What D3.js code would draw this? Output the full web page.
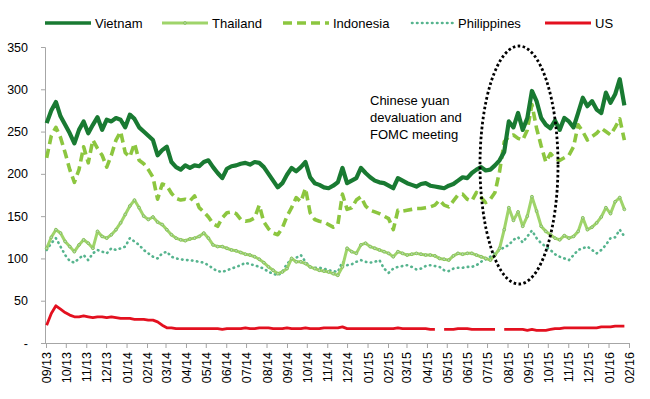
<!DOCTYPE html>
<html>
<head>
<meta charset="utf-8">
<script src="https://cdn.jsdelivr.net/npm/d3@7"></script>
<style>
  body { margin: 0; background: #fff; }
  text { font-family: "Liberation Sans", Arial, sans-serif; }
</style>
</head>
<body>
<div id="wrapper"></div>
<script>
// weekly observations, first week starting 2 Sep 2013
const startDate = new Date(2013, 8, 2)

const vietnam = [260,275,285,268,258,248,236,252,262,248,258,267,252,264,262,266,264,255,270,265,
  255,250,245,240,222,228,232,214,208,205,210,207,210,209,214,216,208,201,195,206,
  209,210,212,213,211,214,213,208,200,192,184,189,199,207,203,208,214,196,189,187,
  184,183,186,190,207,189,192,195,207,201,196,192,190,189,186,183,195,192,189,187,
  185,188,189,186,185,184,183,186,188,192,196,195,201,205,208,204,205,210,216,226,
  262,255,272,252,266,298,286,266,258,254,263,252,266,262,255,272,290,280,286,276,
  272,296,284,294,312,281]

const thailand = [112,125,134,130,120,114,108,116,122,118,112,132,126,124,128,134,142,152,162,169,
  160,150,146,149,143,140,134,128,124,122,121,123,124,126,130,124,116,114,114,112,
  110,109,107,105,104,102,99,95,90,86,82,84,88,100,96,96,94,90,88,86,
  85,84,82,80,90,112,108,106,116,118,114,112,110,108,106,102,108,106,104,105,
  106,105,104,104,103,100,99,98,103,106,105,106,106,104,102,100,98,104,112,134,
  160,145,155,138,150,173,156,138,132,128,124,122,127,124,126,132,148,134,137,142,
  149,160,153,167,172,158]

const indonesia = [219,245,255,243,225,205,190,205,232,213,240,230,222,208,222,240,250,225,220,236,
  216,212,205,196,170,188,186,177,171,169,170,168,174,160,155,149,141,138,148,154,
  155,153,146,144,145,148,163,143,135,130,128,136,150,160,172,167,183,154,146,144,
  143,140,137,140,176,158,160,169,173,162,157,155,153,150,147,134,157,156,157,158,
  159,159,160,161,163,169,163,161,168,175,176,170,168,178,172,166,170,178,203,238,
  244,246,242,240,252,282,254,233,214,224,218,216,219,222,232,258,250,240,244,248,
  254,250,246,255,265,240]

const philippines = [110,118,124,114,104,97,95,100,104,98,106,110,108,106,112,110,112,114,124,120,
  116,110,106,102,100,106,108,102,100,99,98,98,97,96,95,92,88,85,84,86,
  88,90,92,95,93,92,90,88,84,82,80,84,94,98,101,104,96,90,89,89,
  88,86,85,84,96,92,93,96,98,96,95,96,98,88,83,88,90,91,92,90,
  87,88,91,92,91,90,86,85,88,89,89,90,90,92,96,99,102,106,110,113,
  116,122,125,119,126,133,124,118,114,110,105,102,100,98,104,110,112,114,110,106,
  110,116,124,125,134,126]

const us = [21,35,44,40,36,33,31,31,32,31,30,31,31,30,31,30,29,29,29,28,
  28,28,27,27,25,21,18,18,17,17,17,17,17,17,17,17,17,17,16,17,
  17,17,17,18,17,17,18,18,18,17,17,17,18,17,17,17,18,17,17,17,
  18,18,18,18,19,17,17,17,17,17,17,17,17,17,17,17,18,17,17,17,
  17,17,17,16,16,null,16,16,16,17,17,17,16,16,16,16,16,16,null,16,
  16,16,16,16,15,16,15,15,15,16,17,17,18,18,18,18,18,18,18,18,
  19,19,19,20,20,20]

const yTicks = [0, 50, 100, 150, 200, 250, 300, 350]
const monthTicks = d3.timeMonth.range(new Date(2013, 8, 1), new Date(2016, 1, 2))
const annotationLines = ["Chinese yuan", "devaluation and", "FOMC meeting"]

const dates = vietnam.map((d, i) => d3.timeDay.offset(startDate, i * 7))

const series = [
  { name: "Vietnam", values: vietnam, color: "#197a32", width: 4.2, dash: null },
  { name: "Thailand", values: thailand, color: "#9fd46a", width: 3, dash: null, markers: true },
  { name: "Indonesia", values: indonesia, color: "#8cc63f", width: 3.6, dash: "9,5" },
  { name: "Philippines", values: philippines, color: "#56b48e", width: 2.6, dash: "0.5,4.5", cap: "round" },
  { name: "US", values: us, color: "#e3101f", width: 2.8, dash: null },
]

const width = 650
const height = 399

const svg = d3.select("#wrapper")
  .append("svg")
  .attr("width", width)
  .attr("height", height)

const xScale = d3.scaleTime()
  .domain([new Date(2013, 8, 1), new Date(2016, 1, 1)])
  .range([46, 629])

const yScale = d3.scaleLinear()
  .domain([0, 350])
  .range([343, 47])

// axes
const xAxis = svg.append("g")
  .attr("transform", `translate(0, 343)`)
  .call(d3.axisBottom(xScale)
    .tickValues(monthTicks)
    .tickSize(5)
    .tickFormat(d3.timeFormat("%m/%y")))
xAxis.select(".domain").attr("stroke", "#a6a6a6").attr("d", "M45,0.5H629")
xAxis.selectAll(".tick line").attr("stroke", "#a6a6a6")
xAxis.selectAll(".tick text")
  .attr("transform", "rotate(-90)")
  .attr("text-anchor", "end")
  .attr("x", -9)
  .attr("y", 0)
  .attr("dy", "0.36em")
  .attr("font-size", 12.5)
  .attr("fill", "#000")
  .attr("font-family", "Liberation Sans, Arial, sans-serif")

const yAxis = svg.append("g")
  .attr("transform", `translate(45, 0)`)
  .call(d3.axisLeft(yScale)
    .tickValues(yTicks)
    .tickSize(4)
    .tickFormat(d => d === 0 ? "-" : d))
yAxis.select(".domain").attr("stroke", "#a6a6a6")
yAxis.selectAll(".tick line").attr("stroke", "#a6a6a6")
yAxis.selectAll(".tick text")
  .attr("x", -17)
  .attr("font-size", 12.5)
  .attr("fill", "#000")
  .attr("font-family", "Liberation Sans, Arial, sans-serif")

// lines
const lineGenerator = d3.line()
  .defined(d => d.v != null)
  .x(d => xScale(d.date))
  .y(d => yScale(d.v))

const drawOrder = ["Philippines", "Thailand", "Indonesia", "Vietnam", "US"]
drawOrder.forEach(name => {
  const s = series.find(d => d.name === name)
  const pts = s.values.map((v, i) => ({ date: dates[i], v }))
  svg.append("path")
    .attr("d", lineGenerator(pts))
    .attr("fill", "none")
    .attr("stroke", s.color)
    .attr("stroke-width", s.width)
    .attr("stroke-linejoin", "round")
    .attr("stroke-linecap", s.cap || "butt")
    .attr("stroke-dasharray", s.dash)
  if (s.markers) {
    svg.append("g").selectAll("circle")
      .data(pts)
      .join("circle")
      .attr("cx", d => xScale(d.date))
      .attr("cy", d => yScale(d.v))
      .attr("r", 1.4)
      .attr("fill", "#b9d9b4")
      .attr("stroke", "#84bf52")
      .attr("stroke-width", 0.9)
  }
})

// legend
const legendX = [45, 162, 283, 412, 545]
const legend = svg.append("g").attr("transform", "translate(0, 23)")
series.forEach((s, i) => {
  const g = legend.append("g").attr("transform", `translate(${legendX[i]}, 0)`)
  const len = s.name === "Philippines" ? 42 : 46
  g.append("line")
    .attr("x1", 0).attr("x2", len)
    .attr("stroke", s.color)
    .attr("stroke-width", Math.min(s.width, 3.4))
    .attr("stroke-linecap", s.cap || "butt")
    .attr("stroke-dasharray", s.dash)
  if (s.markers) {
    g.append("circle").attr("cx", len / 2).attr("r", 1.4)
      .attr("fill", "#b9d9b4").attr("stroke", "#84bf52").attr("stroke-width", 0.9)
  }
  g.append("text")
    .attr("x", len + 4)
    .attr("dy", "0.36em")
    .attr("font-size", 13)
    .text(s.name)
})

// annotation
svg.append("text")
  .attr("font-size", 13)
  .selectAll("tspan")
  .data(annotationLines)
  .join("tspan")
  .attr("x", 370)
  .attr("y", (d, i) => 105 + i * 17)
  .text(d => d)

svg.append("ellipse")
  .attr("cx", 519)
  .attr("cy", 165)
  .attr("rx", 39)
  .attr("ry", 119)
  .attr("fill", "none")
  .attr("stroke", "#000")
  .attr("stroke-width", 2.8)
  .attr("stroke-dasharray", "2.6,2.4")
</script>
</body>
</html>
